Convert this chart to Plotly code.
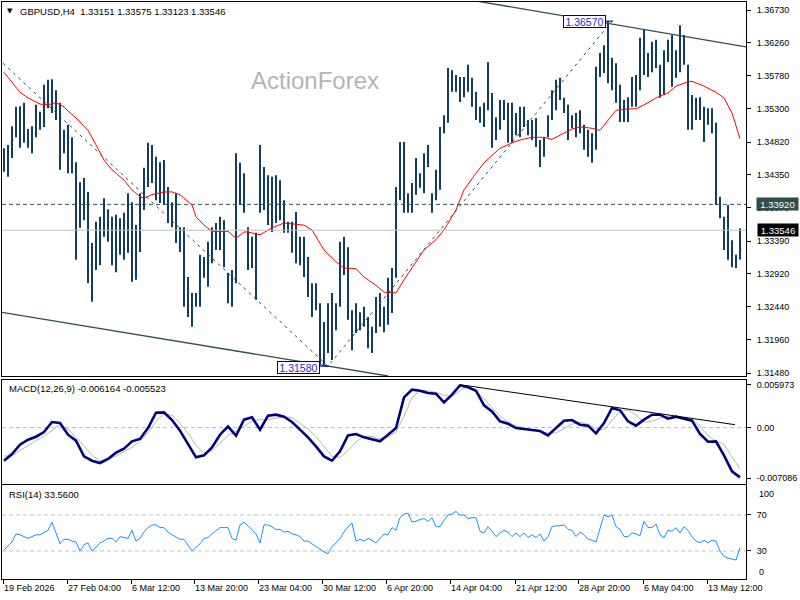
import plotly.graph_objects as go

# ---------------- data ----------------
highs = [
    1.3473, 1.3478, 1.3505, 1.3533, 1.3534, 1.3539, 1.3501, 1.3505, 1.3536, 1.3526,
    1.3565, 1.3572, 1.3573, 1.3557, 1.3539, 1.3500, 1.3507, 1.3489, 1.3453, 1.3424,
    1.3430, 1.3410, 1.3336, 1.3367, 1.3374, 1.3401, 1.3385, 1.3374, 1.3377, 1.3372,
    1.3380, 1.3408, 1.3395, 1.3362, 1.3408, 1.3445, 1.3481, 1.3478, 1.3461, 1.3453,
    1.3456, 1.3417, 1.3395, 1.3408, 1.3359, 1.3359, 1.3287, 1.3264, 1.3264, 1.3319,
    1.3316, 1.3338, 1.3359, 1.3365, 1.3374, 1.3369, 1.3293, 1.3297, 1.3466, 1.3452,
    1.3437, 1.3359, 1.3345, 1.3351, 1.3478, 1.3446, 1.3434, 1.3432, 1.3434, 1.3427,
    1.3398, 1.3367, 1.3367, 1.3381, 1.3345, 1.3345, 1.3316, 1.3278, 1.3278, 1.3249,
    1.3222, 1.3249, 1.3264, 1.3249, 1.3338, 1.3345, 1.3330, 1.3239, 1.3249, 1.3236,
    1.3244, 1.3229, 1.3215, 1.3258, 1.3264, 1.3244, 1.3286, 1.3300, 1.3417, 1.3482,
    1.3482, 1.3408, 1.3423, 1.3459, 1.3437, 1.3466, 1.3478, 1.3408, 1.3442, 1.3504,
    1.3521, 1.3589, 1.3586, 1.3579, 1.3576, 1.3576, 1.3594, 1.3575, 1.3555, 1.3533,
    1.3539, 1.3598, 1.3553, 1.3518, 1.3543, 1.3543, 1.3539, 1.3539, 1.3524, 1.3533,
    1.3533, 1.3514, 1.3514, 1.3517, 1.3485, 1.3489, 1.3521, 1.3557, 1.3572, 1.3575,
    1.3546, 1.3536, 1.3521, 1.3524, 1.3528, 1.3507, 1.3500, 1.3495, 1.3591, 1.3611,
    1.3622, 1.3657, 1.3604, 1.3596, 1.3565, 1.3543, 1.3547, 1.3576, 1.3579, 1.3633,
    1.3644, 1.3611, 1.3627, 1.3630, 1.3594, 1.3615, 1.3630, 1.3637, 1.3615, 1.3651,
    1.3637, 1.3594, 1.3550, 1.3546, 1.3547, 1.3533, 1.3531, 1.3531, 1.3510, 1.3403,
    1.3374, 1.3391, 1.3340, 1.3319, 1.33575,
]
lows = [
    1.3439, 1.3432, 1.3459, 1.3489, 1.3474, 1.3481, 1.3474, 1.3466, 1.3489, 1.3500,
    1.3504, 1.3531, 1.3524, 1.3514, 1.3442, 1.3466, 1.3437, 1.3437, 1.3312, 1.3358,
    1.3369, 1.3278, 1.3251, 1.3297, 1.3304, 1.3345, 1.3338, 1.3304, 1.3294, 1.3319,
    1.3312, 1.3322, 1.3280, 1.3283, 1.3323, 1.3384, 1.3417, 1.3423, 1.3398, 1.3394,
    1.3391, 1.3365, 1.3359, 1.3336, 1.3323, 1.3244, 1.3229, 1.3215, 1.3244, 1.3244,
    1.3286, 1.3273, 1.3307, 1.3326, 1.3326, 1.3301, 1.3249, 1.3244, 1.3278, 1.3391,
    1.3380, 1.3297, 1.3300, 1.3254, 1.3380, 1.3384, 1.3362, 1.3352, 1.3365, 1.3369,
    1.3351, 1.3351, 1.3322, 1.3307, 1.3304, 1.3287, 1.3258, 1.3229, 1.3239, 1.3160,
    1.3158, 1.3177, 1.3167, 1.3210, 1.3244, 1.3290, 1.3225, 1.3181, 1.3206, 1.3210,
    1.3215, 1.3184, 1.3177, 1.3206, 1.3215, 1.3207, 1.3218, 1.3235, 1.3286, 1.3398,
    1.3380, 1.3380, 1.3380, 1.3406, 1.3416, 1.3408, 1.3446, 1.3380, 1.3398, 1.3413,
    1.3495, 1.3510, 1.3555, 1.3555, 1.3540, 1.3547, 1.3555, 1.3533, 1.3514, 1.3510,
    1.3504, 1.3528, 1.3474, 1.3485, 1.3500, 1.3514, 1.3481, 1.3481, 1.3492, 1.3489,
    1.3504, 1.3492, 1.3485, 1.3475, 1.3446, 1.3461, 1.3489, 1.3514, 1.3528, 1.3543,
    1.3524, 1.3485, 1.3502, 1.3489, 1.3495, 1.3471, 1.3461, 1.3452, 1.3471, 1.3576,
    1.3582, 1.3567, 1.3557, 1.3539, 1.3511, 1.3511, 1.3511, 1.3533, 1.3533, 1.3557,
    1.3579, 1.3576, 1.3583, 1.3589, 1.3546, 1.3550, 1.3598, 1.3562, 1.3575, 1.3583,
    1.3594, 1.3500, 1.3500, 1.3514, 1.3514, 1.3482, 1.3507, 1.3495, 1.3391, 1.3372,
    1.3326, 1.3312, 1.3301, 1.3300, 1.33123,
]

ma_idx = [0, 2, 4, 6, 9, 11, 13, 15, 16, 18, 21, 23, 25, 27, 30, 32, 34, 35, 37, 40,
          42, 44, 47, 48, 50, 52, 56, 58, 60, 61, 64, 67, 70, 75, 77, 80, 83, 85, 88, 90,
          93, 95, 98, 100, 103, 105, 108, 110, 113, 115, 118, 120, 123, 124, 127, 129, 132,
          135, 137, 139, 142, 144, 147, 149, 151, 153, 156, 158, 161, 163, 166, 168, 171,
          172, 175, 178, 180, 182, 184]
ma_val = [1.3583, 1.3568, 1.3554, 1.3546, 1.3537, 1.3536, 1.3539, 1.3533, 1.3527, 1.3517,
          1.3499, 1.3478, 1.3456, 1.3442, 1.3427, 1.3413, 1.3403, 1.3401, 1.3406, 1.3410,
          1.3410, 1.3406, 1.3391, 1.3374, 1.3362, 1.3353, 1.3353, 1.3343, 1.3352, 1.3352,
          1.3348, 1.3358, 1.3365, 1.3362, 1.3355, 1.3326, 1.3309, 1.3300, 1.3299, 1.3287,
          1.3275, 1.3265, 1.3264, 1.3283, 1.3309, 1.3326, 1.3341, 1.3355, 1.3384, 1.3413,
          1.3437, 1.3452, 1.3468, 1.3473, 1.3481, 1.3485, 1.3489, 1.3489, 1.3486, 1.3492,
          1.3501, 1.3504, 1.3502, 1.3499, 1.3514, 1.3528, 1.3530, 1.3530, 1.3539, 1.3546,
          1.3553, 1.3563, 1.3569, 1.3570, 1.3563, 1.3554, 1.3546, 1.3524, 1.3487]

macd_idx = list(range(0, 185, 2))
macd_main = [
    -0.00466, -0.00372, -0.00241, -0.00171, -0.00129, -0.00063, 0.00077, 0.00063, -0.00101, -0.00185,
    -0.00405, -0.00466, -0.00498, -0.00442, -0.00353, -0.00297, -0.00194, -0.00161, -0.00007, 0.00208,
    0.00213, 0.00105, -0.00044, -0.00232, -0.00419, -0.00391, -0.00278, -0.00101, 0.00016, -0.00115,
    0.00110, 0.00143, -0.00030, 0.00166, 0.00180, 0.00152, 0.00077, -0.00030, -0.00138, -0.00264,
    -0.00405, -0.00466, -0.00335, -0.00110, -0.00091, -0.00138, -0.00166,
    -0.00194, -0.00101, -0.00007, 0.00424, 0.00531, 0.00517, 0.00484, 0.00475, 0.00353, 0.00461,
    0.00592, 0.00564, 0.00517, 0.00311, 0.00227, 0.00087, 0.00054, -0.00007, -0.00016, -0.00035,
    -0.00049, -0.00110, -0.00007, 0.00096, 0.00105, 0.00040, 0.00026, -0.00082, 0.00063, 0.00274,
    0.00241, 0.00087, 0.00026, 0.00110, 0.00180, 0.00180, 0.00124, 0.00152, 0.00124, 0.00096,
    -0.00091, -0.00199, -0.00194, -0.00391, -0.00615, -0.00700,
]
macd_signal = [
    -0.00400, -0.00395, -0.00325, -0.00250, -0.00185, -0.00119, -0.00044, 0.00049, -0.00026, -0.00138,
    -0.00264, -0.00386, -0.00466, -0.00447, -0.00400, -0.00344, -0.00278, -0.00194, -0.00077, 0.00087,
    0.00190, 0.00171, 0.00063, -0.00082, -0.00250, -0.00363, -0.00325, -0.00218, -0.00110, -0.00054,
    0.00012, 0.00096, 0.00110, 0.00110, 0.00133, 0.00152, 0.00138, 0.00063, -0.00021, -0.00129,
    -0.00264, -0.00405, -0.00419, -0.00325, -0.00204, -0.00124, -0.00124,
    -0.00161, -0.00138, -0.00063, 0.00152, 0.00424, 0.00517, 0.00517, 0.00494, 0.00452, 0.00433,
    0.00517, 0.00587, 0.00508, 0.00405, 0.00274, 0.00157, 0.00077, 0.00026, -0.00007, -0.00026,
    -0.00054, -0.00077, -0.00077, -0.00016, 0.00049, 0.00073, 0.00045, -0.00016, -0.00030, 0.00101,
    0.00227, 0.00246, 0.00176, 0.00077, 0.00087, 0.00133, 0.00157, 0.00157, 0.00143, 0.00115,
    0.00016, -0.00115, -0.00190, -0.00241, -0.00405, -0.00580,
]

rsi = [
    31, 36, 40, 49, 48, 46, 44, 46, 48, 48,
    51, 53, 62, 51, 38, 43, 43, 41, 40, 30,
    37, 39, 30, 34, 39, 41, 44, 44, 40, 46,
    45, 44, 53, 41, 44, 51, 56, 59, 59, 56,
    56, 51, 48, 45, 43, 43, 37, 30, 34, 38,
    44, 45, 49, 53, 56, 56, 56, 44, 42, 59,
    62, 58, 53, 49, 39, 59, 59, 57, 54, 54,
    51, 52, 49, 48, 46, 41, 41, 38, 34, 31,
    29, 27, 35, 39, 44, 51, 57, 61, 41, 43,
    41, 44, 42, 39, 44, 49, 48, 56, 53, 67,
    71, 72, 62, 63, 65, 66, 63, 67, 57, 57,
    64, 70, 71, 74, 70, 70, 66, 67, 67, 52,
    50, 57, 52, 46, 50, 53, 51, 46, 50, 46,
    50, 45, 48, 45, 49, 41, 46, 57, 58, 58,
    59, 54, 53, 46, 51, 48, 43, 42, 40, 56,
    70, 68, 70, 57, 54, 46, 46, 50, 49, 47,
    63, 56, 56, 60, 48, 45, 53, 52, 56, 50,
    57, 53, 46, 41, 39, 42, 39, 42, 41, 30,
    24, 22, 21, 20, 33.56,
]

price_ticks = [1.36730, 1.36260, 1.35780, 1.35300, 1.34820, 1.34350, 1.33870,
               1.33390, 1.32920, 1.32440, 1.31960, 1.31480]
time_tick_pos = [-0.25, 15.75, 31.75, 47.5, 63.5, 79.5, 95.5, 111.5, 127.75, 143.5, 159.75, 175.75]
time_tick_text = ["19 Feb 2026", "27 Feb 04:00", "6 Mar 12:00", "13 Mar 20:00", "23 Mar 04:00",
                  "30 Mar 12:00", "6 Apr 20:00", "14 Apr 04:00", "21 Apr 12:00", "28 Apr 20:00",
                  "6 May 04:00", "13 May 12:00"]

upper_chan_x = [118.5, 185.5]
upper_chan_y = [1.36856, 1.36198]
lower_chan_x = [-1.0, 96.0]
lower_chan_y = [1.32363, 1.31438]
zigzag_x = [-0.25, 81.0, 152.0]
zigzag_y = [1.3596, 1.3158, 1.3657]
level_dashed = 1.33920
last_price = 1.33546
swing_low = 1.31580
swing_high = 1.36570
macd_trend_x = [114.0, 182.75]
macd_trend_y = [0.00601, 0.00040]

# ---------------- styling ----------------
FONT = "Liberation Sans"
BAR = "#113e5e"
SLATE = "#2f4f4f"

idx = list(range(len(highs)))
spans = [h - l for h, l in zip(highs, lows)]

fig = go.Figure()

# price bars
fig.add_trace(go.Bar(x=idx, y=spans, base=lows, width=0.4,
                     marker=dict(color=BAR, line=dict(width=0)),
                     xaxis="x3", yaxis="y3"))
# MA
fig.add_trace(go.Scatter(x=ma_idx, y=ma_val, mode="lines", line=dict(color="#ff0000", width=1),
                         xaxis="x3", yaxis="y3"))
# horizontal levels
fig.add_trace(go.Scatter(x=[-0.5, 185.5], y=[level_dashed, level_dashed], mode="lines",
                         line=dict(color=SLATE, width=1, dash="4px,3px"), xaxis="x3", yaxis="y3"))
fig.add_trace(go.Scatter(x=[-0.5, 185.5], y=[last_price, last_price], mode="lines",
                         line=dict(color="#c0c0c0", width=1), xaxis="x3", yaxis="y3"))
# channel lines
fig.add_trace(go.Scatter(x=upper_chan_x, y=upper_chan_y, mode="lines",
                         line=dict(color=SLATE, width=1.3), xaxis="x3", yaxis="y3"))
fig.add_trace(go.Scatter(x=lower_chan_x, y=lower_chan_y, mode="lines",
                         line=dict(color=SLATE, width=1.3), xaxis="x3", yaxis="y3"))
# zigzag
fig.add_trace(go.Scatter(x=zigzag_x, y=zigzag_y, mode="lines",
                         line=dict(color=SLATE, width=1, dash="3px,4px"), xaxis="x3", yaxis="y3"))
# connectors to swing labels
fig.add_trace(go.Scatter(x=[78.75, 81.25], y=[swing_low, swing_low], mode="lines",
                         line=dict(color="#000080", width=1), xaxis="x3", yaxis="y3"))
fig.add_trace(go.Scatter(x=[149.75, 152.25], y=[swing_high, swing_high], mode="lines",
                         line=dict(color="#000080", width=1), xaxis="x3", yaxis="y3"))

# MACD
fig.add_trace(go.Scatter(x=[-0.5, 185.5], y=[0, 0], mode="lines",
                         line=dict(color="#c0c0c0", width=1, dash="4px,3px"), xaxis="x2", yaxis="y2"))
fig.add_trace(go.Scatter(x=macd_idx, y=macd_signal, mode="lines",
                         line=dict(color="#b8b8b8", width=1), xaxis="x2", yaxis="y2"))
fig.add_trace(go.Scatter(x=macd_idx, y=macd_main, mode="lines",
                         line=dict(color="#000080", width=2.6), xaxis="x2", yaxis="y2"))
fig.add_trace(go.Scatter(x=macd_trend_x, y=macd_trend_y, mode="lines",
                         line=dict(color="#000000", width=1), xaxis="x2", yaxis="y2"))

# RSI
for lv in (70, 30):
    fig.add_trace(go.Scatter(x=[-0.5, 185.5], y=[lv, lv], mode="lines",
                             line=dict(color="#c0c0c0", width=1, dash="4px,3px"), xaxis="x", yaxis="y"))
fig.add_trace(go.Scatter(x=idx, y=rsi, mode="lines", line=dict(color="#1e90ff", width=1),
                         xaxis="x", yaxis="y"))

axis_common = dict(showgrid=False, zeroline=False, showline=True, mirror=True,
                   linecolor="#000000", linewidth=1)
yax_common = dict(axis_common, side="right", ticks="outside", ticklen=4, tickcolor="#000000",
                  tickfont=dict(family=FONT, size=9, color="#000000"), ticklabelstandoff=4)

fig.update_layout(
    width=800, height=600,
    margin=dict(l=2, r=54, t=2, b=21),
    paper_bgcolor="white", plot_bgcolor="white",
    showlegend=False, hovermode=False, barmode="overlay",
    xaxis=dict(axis_common, domain=[0, 1], anchor="y", range=[-0.5, 185.5],
               tickvals=time_tick_pos, ticktext=time_tick_text, ticks="outside", ticklen=4,
               tickcolor="#000000", ticklabelposition="outside right",
               tickfont=dict(family=FONT, size=9, color="#000000")),
    xaxis2=dict(axis_common, domain=[0, 1], anchor="y2", matches="x", showticklabels=False),
    xaxis3=dict(axis_common, domain=[0, 1], anchor="y3", matches="x", showticklabels=False),
    yaxis=dict(yax_common, domain=[0.0, 0.1629], anchor="x", range=[-1.1, 103.3],
               tickvals=[70, 30], ticktext=["70", "30"]),
    yaxis2=dict(yax_common, domain=[0.1646, 0.3449], anchor="x2", range=[-0.00793, 0.00667],
                tickvals=[0.005973, 0, -0.007086], ticktext=["0.005973", "0.00", "-0.007086"]),
    yaxis3=dict(yax_common, domain=[0.3518, 1.0], anchor="x3", range=[1.31438, 1.36846],
                tickvals=price_ticks, ticktext=[f"{v:.5f}" for v in price_ticks]),
)

ann = []
ann.append(dict(xref="paper", yref="paper", x=0.004, y=0.9844, text="▼", showarrow=False,
                xanchor="left", yanchor="middle", font=dict(family="DejaVu Sans", size=7, color="#000")))
ann.append(dict(xref="paper", yref="paper", x=0.0215, y=0.9844,
                text="GBPUSD,H4  1.33151 1.33575 1.33123 1.33546", showarrow=False,
                xanchor="left", yanchor="middle", font=dict(family=FONT, size=9.5, color="#000")))
ann.append(dict(xref="paper", yref="paper", x=0.0067, y=0.331,
                text="MACD(12,26,9) -0.006164 -0.005523", showarrow=False,
                xanchor="left", yanchor="middle", font=dict(family=FONT, size=9.5, color="#000")))
ann.append(dict(xref="paper", yref="paper", x=0.0067, y=0.1456,
                text="RSI(14) 33.5600", showarrow=False,
                xanchor="left", yanchor="middle", font=dict(family=FONT, size=9.5, color="#000")))
ann.append(dict(xref="x3", yref="y3", x=77.75, y=1.35704, text="ActionForex", showarrow=False,
                font=dict(family=FONT, size=24, color="#b4b4b4")))
ann.append(dict(xref="x3", yref="y3", x=73.6, y=1.31561, text=f"{swing_low:.5f}", showarrow=False,
                width=41, height=11, borderpad=0, borderwidth=1, bordercolor="#000080",
                bgcolor="white", font=dict(family=FONT, size=10.5, color="#2a2ad0")))
ann.append(dict(xref="x3", yref="y3", x=145.1, y=1.36564, text=f"{swing_high:.5f}", showarrow=False,
                width=41, height=11, borderpad=0, borderwidth=1, bordercolor="#000080",
                bgcolor="white", font=dict(family=FONT, size=10.5, color="#2a2ad0")))
ann.append(dict(xref="paper", yref="y3", x=1.0134, y=level_dashed, text=f"{level_dashed:.5f}",
                showarrow=False, xanchor="left", width=41, height=12, borderpad=0,
                bgcolor=SLATE, font=dict(family=FONT, size=9.5, color="white")))
ann.append(dict(xref="paper", yref="y3", x=1.0148, y=last_price, text=f"{last_price:.5f}",
                showarrow=False, xanchor="left", width=40, height=12, borderpad=0,
                bgcolor="#000000", font=dict(family=FONT, size=9.5, color="white")))
ann.append(dict(xref="paper", yref="y", x=1.0148, y=93.3, text="100", showarrow=False,
                xanchor="left", font=dict(family=FONT, size=9, color="#000")))
ann.append(dict(xref="paper", yref="y", x=1.0148, y=6.7, text="0", showarrow=False,
                xanchor="left", font=dict(family=FONT, size=9, color="#000")))
fig.update_layout(annotations=ann)

fig.write_html("out.html")
